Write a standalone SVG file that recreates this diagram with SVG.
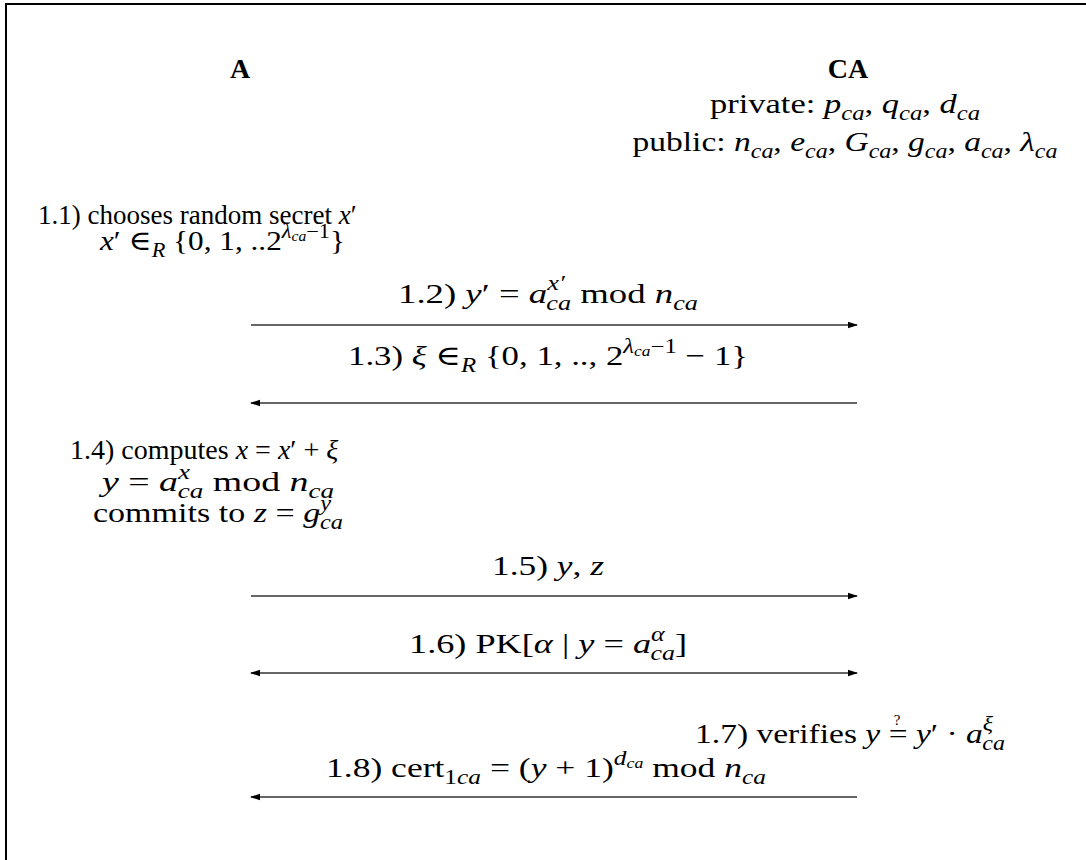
<svg xmlns="http://www.w3.org/2000/svg" width="1086" height="860" viewBox="0 0 1086 860">
<style>
.t{font-family:"Liberation Serif","DejaVu Serif",serif;font-size:28px;fill:#000}
.b{font-weight:bold}
.i{font-style:italic}
.s{font-size:20px}
.ss{font-size:14px}
.q{font-family:"Liberation Serif","DejaVu Serif",serif;font-size:15px;fill:#000}
.ln{stroke:#333;stroke-width:1.6;fill:none}
</style>
<defs>
<marker id="ah" markerWidth="10" markerHeight="8" refX="9" refY="4" orient="auto-start-reverse" markerUnits="userSpaceOnUse">
<path d="M0,0.8 L10,4 L0,7.2 Z" fill="#000"/>
</marker>
</defs>
<rect x="6" y="4" width="1200" height="1000" fill="none" stroke="#000" stroke-width="2"/>
<g id="A">
<text class="t b" x="240" y="78" text-anchor="middle">A</text>
</g>
<g id="CA">
<text class="t b" x="848" y="78" text-anchor="middle">CA</text>
<text class="t" x="845" y="113" text-anchor="middle" textLength="270" lengthAdjust="spacingAndGlyphs">private: <tspan class="i">p</tspan><tspan class="i s" dy="7">ca</tspan><tspan dy="-7">, </tspan><tspan class="i">q</tspan><tspan class="i s" dy="7">ca</tspan><tspan dy="-7">, </tspan><tspan class="i">d</tspan><tspan class="i s" dy="7">ca</tspan></text>
<text class="t" x="845" y="151" text-anchor="middle" textLength="425" lengthAdjust="spacingAndGlyphs">public: <tspan class="i">n</tspan><tspan class="i s" dy="7">ca</tspan><tspan dy="-7">, </tspan><tspan class="i">e</tspan><tspan class="i s" dy="7">ca</tspan><tspan dy="-7">, </tspan><tspan class="i">G</tspan><tspan class="i s" dy="7">ca</tspan><tspan dy="-7">, </tspan><tspan class="i">g</tspan><tspan class="i s" dy="7">ca</tspan><tspan dy="-7">, </tspan><tspan class="i">a</tspan><tspan class="i s" dy="7">ca</tspan><tspan dy="-7">, </tspan><tspan class="i">λ</tspan><tspan class="i s" dy="7">ca</tspan></text>
</g>
<g id="step1-1">
<text class="t" x="38" y="224" style="font-size:27px">1.1) chooses random secret <tspan class="i">x</tspan>′</text>
<text class="t" x="100" y="250" textLength="245" lengthAdjust="spacingAndGlyphs"><tspan class="i">x</tspan>′ ∈<tspan class="i s" dy="7">R</tspan><tspan dy="-7"> {0, 1, ..2</tspan><tspan class="i s" dy="-12">λ</tspan><tspan class="i ss" dy="3">ca</tspan><tspan class="s" dy="-3">−1</tspan><tspan dy="12">}</tspan></text>
</g>
<g id="step1-4">
<text class="t" x="70" y="459">1.4) computes <tspan class="i">x</tspan> = <tspan class="i">x</tspan>′ + <tspan class="i">ξ</tspan></text>
<text class="t" x="218" y="491" text-anchor="middle" textLength="232" lengthAdjust="spacingAndGlyphs"><tspan class="i">y</tspan> = <tspan class="i">a</tspan><tspan class="i s" dy="-12">x</tspan><tspan class="i s" dx="-9" dy="19">ca</tspan><tspan dy="-7"> mod </tspan><tspan class="i">n</tspan><tspan class="i s" dy="7">ca</tspan></text>
<text class="t" x="218" y="522" text-anchor="middle" textLength="250" lengthAdjust="spacingAndGlyphs">commits to <tspan class="i">z</tspan> = <tspan class="i">g</tspan><tspan class="i s" dy="-12">y</tspan><tspan class="i s" dx="-9" dy="19">ca</tspan></text>
</g>
<g id="step1-7">
<text class="t" x="695" y="743" textLength="310" lengthAdjust="spacingAndGlyphs">1.7) verifies <tspan class="i">y</tspan> = <tspan class="i">y</tspan>′ · <tspan class="i">a</tspan><tspan class="i s" dy="-12">ξ</tspan><tspan class="i s" dx="-9" dy="19">ca</tspan></text>
<text class="q" x="897" y="725" text-anchor="middle">?</text>
</g>
<g id="connectors">
<line class="ln" x1="251" y1="325" x2="857" y2="325" marker-end="url(#ah)"/>
<line class="ln" x1="857" y1="403" x2="251" y2="403" marker-end="url(#ah)"/>
<line class="ln" x1="251" y1="596" x2="857" y2="596" marker-end="url(#ah)"/>
<line class="ln" x1="251" y1="673" x2="857" y2="673" marker-start="url(#ah)" marker-end="url(#ah)"/>
<line class="ln" x1="857" y1="797" x2="251" y2="797" marker-end="url(#ah)"/>
<text class="t" x="548" y="303" text-anchor="middle" textLength="300" lengthAdjust="spacingAndGlyphs">1.2) <tspan class="i">y</tspan>′ = <tspan class="i">a</tspan><tspan class="i s" dy="-13">x′</tspan><tspan class="i s" dx="-14" dy="20">ca</tspan><tspan dy="-7"> mod </tspan><tspan class="i">n</tspan><tspan class="i s" dy="7">ca</tspan></text>
<text class="t" x="548" y="365" text-anchor="middle" textLength="400" lengthAdjust="spacingAndGlyphs">1.3) <tspan class="i">ξ</tspan> ∈<tspan class="i s" dy="7">R</tspan><tspan dy="-7"> {0, 1, .., 2</tspan><tspan class="i s" dy="-12">λ</tspan><tspan class="i ss" dy="3">ca</tspan><tspan class="s" dy="-3">−1</tspan><tspan dy="12"> − 1}</tspan></text>
<text class="t" x="548" y="575" text-anchor="middle" textLength="112" lengthAdjust="spacingAndGlyphs">1.5) <tspan class="i">y</tspan>, <tspan class="i">z</tspan></text>
<text class="t" x="548" y="653" text-anchor="middle" textLength="278" lengthAdjust="spacingAndGlyphs">1.6) PK[<tspan class="i">α</tspan> | <tspan class="i">y</tspan> = <tspan class="i">a</tspan><tspan class="i s" dy="-12">α</tspan><tspan class="i s" dx="-11" dy="19">ca</tspan><tspan dy="-7">]</tspan></text>
<text class="t" x="546" y="777" text-anchor="middle" textLength="440" lengthAdjust="spacingAndGlyphs">1.8) cert<tspan class="s" dy="7">1</tspan><tspan class="i s">ca</tspan><tspan dy="-7"> = (</tspan><tspan class="i">y</tspan> + 1)<tspan class="i s" dy="-12">d</tspan><tspan class="i ss" dy="3">ca</tspan><tspan dy="9">  mod </tspan><tspan class="i">n</tspan><tspan class="i s" dy="7">ca</tspan></text>
</g>
</svg>
